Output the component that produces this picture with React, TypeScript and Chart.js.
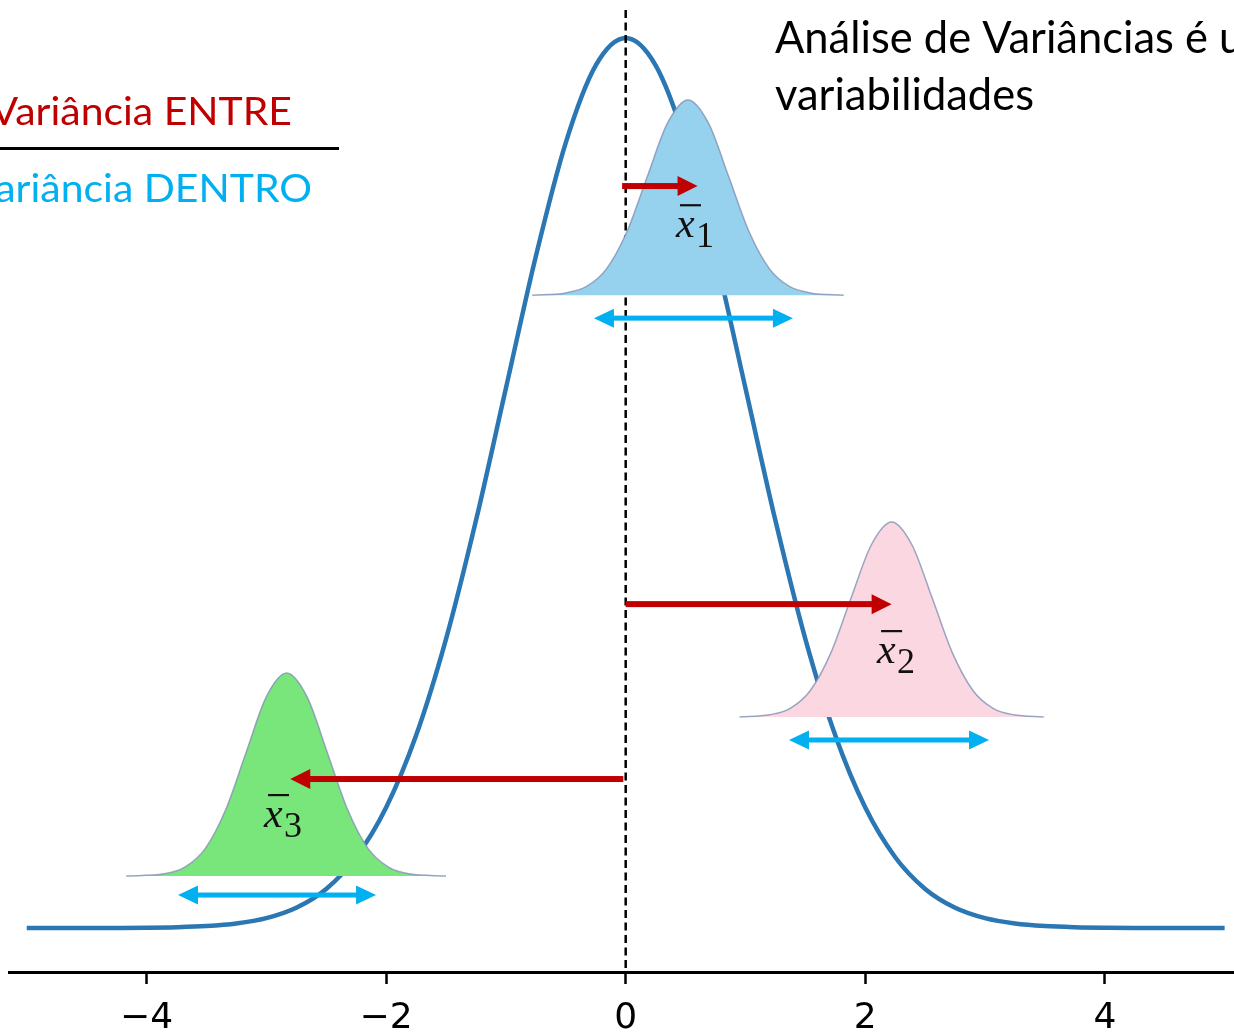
import React, { useEffect, useRef } from "react";
import { Chart, registerables } from "chart.js";

Chart.register(...registerables);

// ---------- data ----------
const tickValues = [-4, -2, 0, 2, 4];

// overall (population) curve
const mainX = [
  -5, -4.75, -4.5, -4.25, -4, -3.75, -3.5, -3.25, -3, -2.75, -2.5, -2.25, -2, -1.75, -1.5, -1.25, -1, -0.75, -0.5, -0.25,
  0, 0.25, 0.5, 0.75, 1, 1.25, 1.5, 1.75, 2, 2.25, 2.5, 2.75, 3, 3.25, 3.5, 3.75, 4, 4.25, 4.5, 4.75, 5,
];
const mainY = [
  0.0, 0.00001, 0.00002, 0.00005, 0.00013, 0.00035, 0.00087, 0.00203, 0.00443, 0.00909, 0.01753, 0.03174, 0.05399,
  0.08628, 0.12952, 0.18265, 0.24197, 0.30114, 0.35207, 0.38667, 0.39894, 0.38667, 0.35207, 0.30114, 0.24197, 0.18265,
  0.12952, 0.08628, 0.05399, 0.03174, 0.01753, 0.00909, 0.00443, 0.00203, 0.00087, 0.00035, 0.00013, 0.00005, 0.00002,
  0.00001, 0.0,
];

// group 1 (blue)
const group1X = [-0.78, -0.5, -0.33, -0.16, 0.01, 0.18, 0.35, 0.52, 0.69, 0.86, 1.03, 1.2, 1.37, 1.54, 1.82];
const group1Y = [0.2837, 0.2847, 0.2875, 0.2955, 0.3121, 0.3368, 0.3609, 0.3712, 0.3609, 0.3368, 0.3121, 0.2955, 0.2875, 0.2847, 0.2837];
const group1Base = 0.2837;

// group 2 (pink)
const group2X = [0.95, 1.2, 1.37, 1.54, 1.71, 1.88, 2.05, 2.22, 2.39, 2.56, 2.73, 2.9, 3.07, 3.24, 3.49];
const group2Y = [0.0946, 0.0956, 0.0984, 0.1064, 0.123, 0.1477, 0.1717, 0.182, 0.1717, 0.1477, 0.123, 0.1064, 0.0984, 0.0956, 0.0946];
const group2Base = 0.0946;

// group 3 (green)
const group3X = [-4.17, -3.85, -3.68, -3.51, -3.34, -3.17, -3.0, -2.83, -2.66, -2.49, -2.32, -2.15, -1.98, -1.81, -1.5];
const group3Y = [0.0233, 0.0243, 0.0273, 0.0356, 0.0529, 0.0785, 0.1036, 0.1143, 0.1036, 0.0785, 0.0529, 0.0356, 0.0273, 0.0243, 0.0233];
const group3Base = 0.0233;

// ---------- annotations (data coordinates) ----------
const betweenArrows = [
  { x1: -0.03, x2: 0.6, y: 0.3326 },
  { x1: 0.0, x2: 2.22, y: 0.1452 },
  { x1: -0.02, x2: -2.8, y: 0.0668 },
];
const withinArrows = [
  { x1: -0.265, x2: 1.396, y: 0.2734 },
  { x1: 1.363, x2: 3.033, y: 0.0843 },
  { x1: -3.737, x2: -2.084, y: 0.0148 },
];
const meanLabels = [
  { x: 0.428, y: 0.3097, sub: "1" },
  { x: 2.107, y: 0.1188, sub: "2" },
  { x: -3.011, y: 0.0453, sub: "3" },
];

const RED = "#c00000";
const CYAN = "#00b0f0";
const MAIN_INDEX = 3;

function pts(xs: number[], ys: number[]) {
  return xs.map((x, i) => ({ x, y: ys[i] }));
}

function drawArrow(
  ctx: CanvasRenderingContext2D,
  x1: number,
  x2: number,
  y: number,
  color: string,
  shaft: number,
  headLen: number,
  headHalf: number,
  both: boolean
) {
  const dir = x2 >= x1 ? 1 : -1;
  ctx.save();
  ctx.fillStyle = color;
  const sStart = both ? x1 + dir * (headLen - 1) : x1;
  const sEnd = x2 - dir * (headLen - 1);
  ctx.fillRect(Math.min(sStart, sEnd), y - shaft / 2, Math.abs(sEnd - sStart), shaft);
  const head = (tip: number, d: number) => {
    ctx.beginPath();
    ctx.moveTo(tip, y);
    ctx.lineTo(tip - d * headLen, y - headHalf);
    ctx.lineTo(tip - d * headLen, y + headHalf);
    ctx.closePath();
    ctx.fill();
  };
  head(x2, dir);
  if (both) head(x1, -dir);
  ctx.restore();
}

const overlayPlugin = {
  id: "overlay",
  afterDatasetDraw(chart: any, args: any) {
    if (args.index !== MAIN_INDEX) return;
    const { ctx, chartArea, scales } = chart;
    const px = scales.x.getPixelForValue(0);
    ctx.save();
    ctx.setLineDash([8, 4.5]);
    ctx.lineWidth = 2.5;
    ctx.strokeStyle = "#000";
    ctx.beginPath();
    ctx.moveTo(px, scales.y.getPixelForValue(0.4115));
    ctx.lineTo(px, chartArea.bottom);
    ctx.stroke();
    ctx.restore();
  },
  afterDatasetsDraw(chart: any) {
    const { ctx, scales } = chart;
    const X = (v: number) => scales.x.getPixelForValue(v);
    const Y = (v: number) => scales.y.getPixelForValue(v);

    withinArrows.forEach((a) => drawArrow(ctx, X(a.x1), X(a.x2), Y(a.y), CYAN, 5, 20, 9.5, true));
    betweenArrows.forEach((a) => drawArrow(ctx, X(a.x1), X(a.x2), Y(a.y), RED, 6, 20, 10, false));

    // mean labels x̄_i
    meanLabels.forEach((m) => {
      const px = X(m.x);
      const py = Y(m.y);
      ctx.save();
      ctx.fillStyle = "#111";
      ctx.textAlign = "left";
      ctx.textBaseline = "alphabetic";
      ctx.font = 'italic 42px "Liberation Serif"';
      ctx.fillText("x", px - 1, py);
      ctx.fillRect(px + 3, py - 33, 21, 2.2);
      ctx.font = '36px "Liberation Serif"';
      ctx.fillText(m.sub, px + 19, py + 10);
      ctx.restore();
    });

    // texts
    ctx.save();
    ctx.textBaseline = "alphabetic";
    ctx.font = '44px "Lato"';
    const w = ctx.measureText("variabilidades").width;
    const sx = 259 / w;
    const txt = (s: string, x: number, y: number, font: string, color: string, align: CanvasTextAlign, k: number) => {
      ctx.save();
      ctx.font = font;
      ctx.fillStyle = color;
      ctx.textAlign = align;
      ctx.translate(x, y);
      ctx.scale(sx * k, 1);
      ctx.fillText(s, 0, 0);
      ctx.restore();
    };
    txt("Análise de Variâncias é u", 775, 53, '44px "Lato"', "#000", "left", 1);
    txt("variabilidades", 775, 110, '44px "Lato"', "#000", "left", 1);
    txt("Variância ENTRE", 292, 125, '38px "Lato"', RED, "right", 1.09);
    txt("Variância DENTRO", 312, 202, '38px "Lato"', CYAN, "right", 1.09);
    ctx.fillStyle = "#000";
    ctx.fillRect(0, 147, 339, 3);
    ctx.restore();
  },
};

export default function App() {
  const ref = useRef<HTMLCanvasElement | null>(null);

  useEffect(() => {
    if (!ref.current) return;
    const outline = "rgba(130,145,180,0.8)";
    const chart = new Chart(ref.current, {
      type: "line",
      data: {
        datasets: [
          {
            data: pts(group1X, group1Y),
            borderColor: outline,
            borderWidth: 1.5,
            backgroundColor: "#96d2ee",
            fill: { value: group1Base },
            pointRadius: 0,
            cubicInterpolationMode: "monotone",
            order: 1,
          },
          {
            data: pts(group2X, group2Y),
            borderColor: outline,
            borderWidth: 1.5,
            backgroundColor: "#fbd7e1",
            fill: { value: group2Base },
            pointRadius: 0,
            cubicInterpolationMode: "monotone",
            order: 1,
          },
          {
            data: pts(group3X, group3Y),
            borderColor: outline,
            borderWidth: 1.5,
            backgroundColor: "#78e67b",
            fill: { value: group3Base },
            pointRadius: 0,
            cubicInterpolationMode: "monotone",
            order: 1,
          },
          {
            data: pts(mainX, mainY),
            borderColor: "#2a77b3",
            borderWidth: 4.5,
            fill: false,
            pointRadius: 0,
            cubicInterpolationMode: "monotone",
            order: 10,
          },
        ],
      },
      options: {
        animation: false,
        responsive: false,
        devicePixelRatio: 1,
        layout: { padding: { left: 9, right: 0, top: 0, bottom: 0 } },
        plugins: { legend: { display: false }, tooltip: { enabled: false }, title: { display: false } },
        scales: {
          x: {
            type: "linear",
            min: -5.148,
            max: 5.078,
            afterBuildTicks: (s: any) => {
              s.ticks = tickValues.map((v) => ({ value: v }));
            },
            afterFit: (s: any) => {
              s.height = 60;
            },
            grid: {
              display: true,
              drawOnChartArea: false,
              drawTicks: true,
              tickLength: 12,
              tickWidth: 2.5,
              tickColor: "#000",
            },
            border: { display: true, color: "#000", width: 3 },
            ticks: {
              autoSkip: false,
              maxRotation: 0,
              padding: 13,
              color: "#000",
              font: { family: "DejaVu Sans", size: 36 },
              callback: (v: any) => (Number(v) < 0 ? "\u2212" + Math.abs(Number(v)) : String(v)),
            },
          },
          y: { display: false, min: -0.0197, max: 0.416 },
        },
      },
      plugins: [overlayPlugin],
    } as any);
    return () => chart.destroy();
  }, []);

  return (
    <div style={{ position: "absolute", left: 0, top: 0, width: 1234, height: 1032, background: "#fff" }}>
      <canvas ref={ref} width={1234} height={1032} />
    </div>
  );
}
